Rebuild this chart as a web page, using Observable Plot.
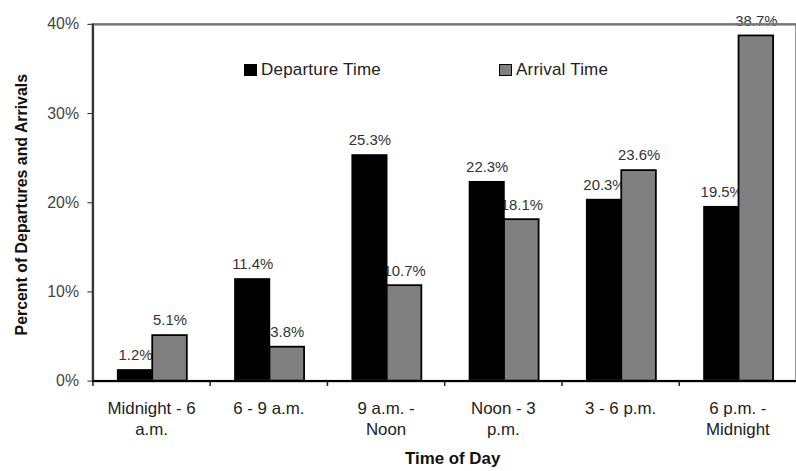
<!DOCTYPE html>
<html><head><meta charset="utf-8">
<script src="https://cdn.jsdelivr.net/npm/d3@7"></script>
<script src="https://cdn.jsdelivr.net/npm/@observablehq/plot@0.6"></script>
<style>
html,body{margin:0;padding:0;background:#fff;overflow:hidden;}
#wrap{position:relative;width:796px;height:471px;overflow:hidden;}
.legend{position:absolute;top:60px;height:20px;font:17px "Liberation Sans",Arial,sans-serif;color:#222;display:flex;align-items:center;white-space:nowrap;letter-spacing:0.2px}
.sw{width:13px;height:12px;box-sizing:border-box;border:1.5px solid #000;margin-right:4px}
</style></head><body><div id="wrap"></div>
<script>
const categories = ["Midnight - 6\na.m.", "6 - 9 a.m.", "9 a.m. -\nNoon", "Noon - 3\np.m.", "3 - 6 p.m.", "6 p.m. -\nMidnight"];
const series = ["Departure Time", "Arrival Time"];
const departure = [1.2, 11.4, 25.3, 22.3, 20.3, 19.5];
const arrival = [5.1, 3.8, 10.7, 18.1, 23.6, 38.7];
const yTicks = [0, 10, 20, 30, 40];
const colors = ["#000000", "#808080"];
const yTitle = "Percent of Departures and Arrivals";
const xTitle = "Time of Day";

const rows = categories.flatMap((c, i) => [
  {time: c, series: series[0], value: departure[i]},
  {time: c, series: series[1], value: arrival[i]}
]);
const dep = rows.filter(d => d.series === series[0]);
const arr = rows.filter(d => d.series === series[1]);

const W = 801, mL = 93, mR = 0;
const step = (W - mL - mR) / categories.length;
const barW = step * 0.295;
const gap0 = step * 0.215;
const font = '"Liberation Sans", Arial, sans-serif';

const chart = Plot.plot({
  width: W, height: 471,
  marginLeft: mL, marginRight: mR, marginTop: 24, marginBottom: 88,
  style: {fontFamily: font, color: "#222", background: "#fff", overflow: "visible"},
  x: {domain: categories, padding: 0, label: null},
  y: {domain: [0, 40], label: null},
  marks: [
    Plot.axisY({ticks: yTicks, tickFormat: d => d + "%", tickSize: 5, tickPadding: 9, fontSize: 16, letterSpacing: 1.2, fill: "#444", stroke: "#222", label: null}),
    Plot.axisX({tickSize: 0, tickPadding: 18, fontSize: 17, letterSpacing: 0.6, lineHeight: 1.24, fill: "#222", label: null}),
    Plot.text(dep, {x: "time", y: "value", text: d => d.value.toFixed(1) + "%", dx: gap0 + barW / 2 - step / 2, dy: -15, fontSize: 15, fill: "#333"}),
    Plot.text(arr, {x: "time", y: "value", text: d => d.value.toFixed(1) + "%", dx: gap0 + 1.5 * barW - step / 2, dy: -15, fontSize: 15, fill: "#333"}),
    Plot.barY(dep, {x: "time", y: "value", fill: colors[0], stroke: "#000", strokeWidth: 1.5, insetLeft: gap0, insetRight: step - gap0 - barW}),
    Plot.barY(arr, {x: "time", y: "value", fill: colors[1], stroke: "#000", strokeWidth: 1.8, insetLeft: gap0 + barW, insetRight: step - gap0 - 2 * barW}),
    Plot.frame({stroke: "#777", strokeWidth: 2.5}),
    Plot.ruleX([categories[0]], {dx: -step / 2, y1: 0, y2: 40, stroke: "#333", strokeWidth: 2}),
    Plot.ruleX(categories, {x: d => d, dx: -step / 2, y1: 0, y2: -0.6, stroke: "#222", strokeWidth: 1.5}),
    Plot.ruleY([0], {stroke: "#000", strokeWidth: 2}),
    Plot.text([yTitle], {text: d => d, frameAnchor: "left", textAnchor: "middle", rotate: -90, dx: -71, dy: 2, fontWeight: "bold", fontSize: 16, letterSpacing: 0.9, fill: "#111"}),
    Plot.text([xTitle], {text: d => d, frameAnchor: "bottom", textAnchor: "middle", dx: 8, dy: 83, fontWeight: "bold", fontSize: 17, letterSpacing: 0.6, fill: "#111"})
  ]
});
const wrap = document.getElementById("wrap");
wrap.appendChild(chart);
const legendLeft = [244, 499];
series.forEach((s, i) => {
  const d = document.createElement("div");
  d.className = "legend";
  d.style.left = legendLeft[i] + "px";
  const sw = document.createElement("span");
  sw.className = "sw";
  sw.style.background = colors[i];
  d.appendChild(sw);
  d.appendChild(document.createTextNode(s));
  wrap.appendChild(d);
});
</script></body></html>
